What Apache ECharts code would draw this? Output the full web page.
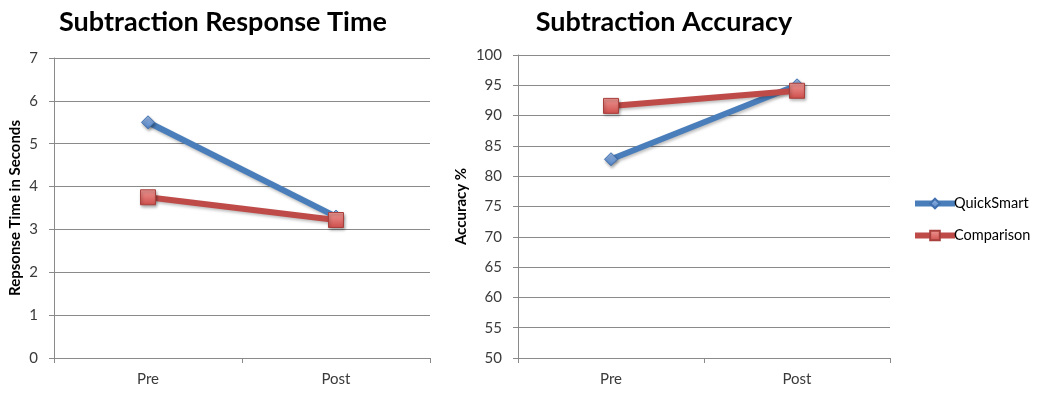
<!DOCTYPE html>
<html>
<head>
<meta charset="utf-8">
<script src="https://cdn.jsdelivr.net/npm/echarts@6/dist/echarts.min.js"></script>
<style>
  html, body { margin: 0; padding: 0; background: #fff; }
  #chart { width: 1039px; height: 394px; }
</style>
</head>
<body>
<div id="chart"></div>
<script>
// Phases of the study
const phases = ['Pre', 'Post'];

// Subtraction response time (seconds)
const rtQuickSmart = [5.5, 3.3];
const rtComparison = [3.75, 3.22];

// Subtraction accuracy (%)
const accQuickSmart = [82.8, 95.0];
const accComparison = [91.6, 94.1];

const seriesNames = ['QuickSmart', 'Comparison'];

const FONT = 'Lato, "Noto Sans", sans-serif';
const GRID_GREY = '#8a8a8a';

const blueLine = '#4a7ebb';
const redLine = '#be4b48';

const blueMarker = {
  color: new echarts.graphic.LinearGradient(0, 0, 0, 1, [
    { offset: 0, color: '#9dbbe6' },
    { offset: 1, color: '#4f81c4' }
  ]),
  borderColor: '#3f6fae',
  borderWidth: 1,
  shadowColor: 'rgba(0,0,0,0.35)',
  shadowBlur: 3,
  shadowOffsetX: 1,
  shadowOffsetY: 2
};
const redMarker = {
  color: new echarts.graphic.LinearGradient(0, 0, 0, 1, [
    { offset: 0, color: '#f09a97' },
    { offset: 1, color: '#cd4d4a' }
  ]),
  borderColor: '#a8403d',
  borderWidth: 1,
  shadowColor: 'rgba(0,0,0,0.35)',
  shadowBlur: 3,
  shadowOffsetX: 1,
  shadowOffsetY: 2
};

function xAxisFor(gridIndex) {
  return {
    type: 'category',
    gridIndex,
    data: phases,
    boundaryGap: true,
    axisLine: { show: true, lineStyle: { color: GRID_GREY, width: 1 } },
    axisTick: { show: true, length: 5, lineStyle: { color: GRID_GREY } },
    axisLabel: { fontFamily: FONT, fontSize: 15, color: '#3a3a3a', margin: 14 },
    splitLine: { show: false }
  };
}

function yAxisFor(gridIndex, min, max, interval, name, nameGap) {
  return {
    type: 'value',
    gridIndex,
    min, max, interval,
    name,
    nameLocation: 'middle',
    nameGap,
    nameTextStyle: { fontFamily: FONT, fontSize: 15, fontWeight: 'bold', color: '#000' },
    axisLine: { show: true, lineStyle: { color: GRID_GREY, width: 1 } },
    axisTick: { show: true, length: 5, lineStyle: { color: GRID_GREY } },
    axisLabel: { fontFamily: FONT, fontSize: 15, color: '#3a3a3a', margin: 16 },
    splitLine: { show: true, lineStyle: { color: GRID_GREY, width: 1 } }
  };
}

function lineSeries(name, data, gridIdx, color, symbol, size, markerStyle) {
  return {
    name,
    type: 'line',
    xAxisIndex: gridIdx,
    yAxisIndex: gridIdx,
    data,
    symbol,
    symbolSize: size,
    showAllSymbol: true,
    lineStyle: {
      color, width: 6,
      shadowColor: 'rgba(0,0,0,0.25)', shadowBlur: 3, shadowOffsetX: 1, shadowOffsetY: 2
    },
    itemStyle: markerStyle,
    emphasis: { disabled: true },
    animation: false
  };
}

const chart = echarts.init(document.getElementById('chart'), null, { renderer: 'canvas' });

chart.setOption({
  backgroundColor: '#ffffff',
  animation: false,
  title: [
    {
      text: 'Subtraction Response Time',
      left: 218, top: 4, textAlign: 'center',
      textStyle: { fontFamily: FONT, fontSize: 27, fontWeight: 'bold', color: '#000' }
    },
    {
      text: 'Subtraction Accuracy',
      left: 659, top: 4, textAlign: 'center',
      textStyle: { fontFamily: FONT, fontSize: 27, fontWeight: 'bold', color: '#000' }
    }
  ],
  legend: {
    data: seriesNames,
    orient: 'vertical',
    left: 910,
    top: 194,
    padding: 2,
    itemWidth: 40,
    itemHeight: 12,
    itemGap: 17,
    lineStyle: { width: 6 },
    textStyle: { fontFamily: FONT, fontSize: 14.5, color: '#000', padding: [0, 0, 0, -6] },
    selectedMode: false
  },
  grid: [
    { left: 54, top: 58, width: 376, height: 300 },
    { left: 518, top: 55, width: 372, height: 303 }
  ],
  xAxis: [xAxisFor(0), xAxisFor(1)],
  yAxis: [
    yAxisFor(0, 0, 7, 1, 'Repsonse Time in Seconds', 31),
    yAxisFor(1, 50, 100, 5, 'Accuracy %', 49)
  ],
  series: [
    lineSeries(seriesNames[0], rtQuickSmart, 0, blueLine, 'diamond', 13, blueMarker),
    lineSeries(seriesNames[1], rtComparison, 0, redLine, 'rect', 15, redMarker),
    lineSeries(seriesNames[0], accQuickSmart, 1, blueLine, 'diamond', 13, blueMarker),
    lineSeries(seriesNames[1], accComparison, 1, redLine, 'rect', 15, redMarker)
  ]
});
</script>
</body>
</html>
